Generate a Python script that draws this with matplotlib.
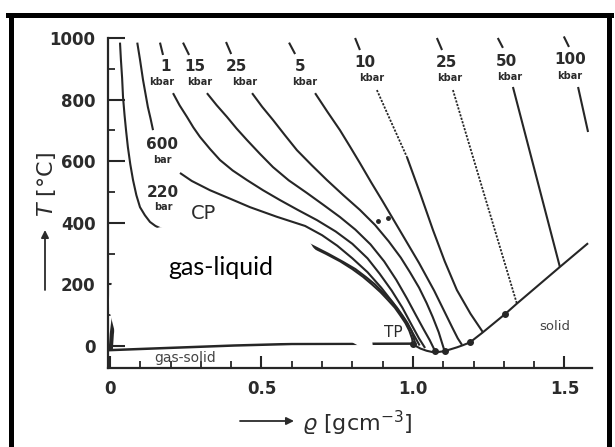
import numpy as np
import matplotlib
matplotlib.use('Agg')
import matplotlib.pyplot as plt
from matplotlib.patches import Polygon
from matplotlib.lines import Line2D

nan = np.nan

# ---------------- data (density g/cm^3, temperature °C); NaN = label gap ----------------
p220_rho = [0.033, 0.036, 0.040, 0.043, 0.048, 0.053, 0.059, 0.067, 0.076, 0.087, 0.099, 0.115, 0.132,
            0.150, 0.172, 0.20, 0.30, 0.45, 0.60, 0.66, 0.72, 0.77, 0.81, 0.845, 0.875, 0.90, 0.925,
            0.947, 0.965, 0.982, 0.995, 1.003, 1.008]
p220_T   = [985, 930, 870, 808, 750, 700, 646, 590, 539, 490, 451, 425, 403,
            390, 380, 376, 373, 372, 355, 330, 300, 273, 250, 224, 200, 175, 150,
            125, 100, 75, 50, 25, 6]

p600_rho = [0.090, 0.099, 0.109, 0.117, 0.125, 0.134, 0.142, nan,
            0.231, 0.27, 0.330, 0.40, 0.462, 0.55, 0.644, 0.70, 0.75, 0.80, 0.85, 0.895, 0.935,
            0.97, 0.995, 1.012, 1.022]
p600_T   = [985, 930, 864, 820, 776, 738, 701, nan,
            562, 536, 506, 477, 451, 420, 390, 360, 326, 285, 240, 190, 140,
            90, 50, 20, 2]

p1k_rho = [0.165, 0.175, nan, 0.208, 0.23, 0.254, 0.275, 0.297, 0.33, 0.363, 0.405, 0.452, 0.505,
           0.561, 0.62, 0.683, 0.745, 0.80, 0.85, 0.89, 0.93, 0.965, 0.995, 1.02, 1.040]
p1k_T   = [985, 945, nan, 821, 781, 744, 710, 679, 640, 604, 570, 539, 506,
           474, 442, 409, 372, 332, 285, 235, 180, 125, 70, 25, -6]

p15k_rho = [0.241, 0.261, nan, 0.320, 0.352, 0.386, 0.418, 0.452, 0.495, 0.538, 0.59, 0.650, 0.705,
            0.759, 0.81, 0.86, 0.905, 0.945, 0.98, 1.01, 1.035, 1.055, 1.072]
p15k_T   = [985, 945, nan, 821, 782, 744, 706, 669, 624, 581, 538, 497, 458,
            419, 378, 330, 275, 215, 155, 100, 55, 20, -14]

p25k_rho = [0.383, 0.400, nan, 0.469, 0.502, 0.538, 0.577, 0.617, 0.666, 0.716, 0.77, 0.825, 0.875,
            0.92, 0.96, 0.99, 1.02, 1.045, 1.065, 1.085, 1.104]
p25k_T   = [987, 948, nan, 821, 777, 734, 685, 636, 587, 539, 490, 442, 393,
            340, 287, 240, 190, 140, 95, 45, -15]

p5k_rho = [0.591, 0.611, nan, 0.677, 0.718, 0.759, 0.792, 0.825, 0.863, 0.90, 0.93, 0.96, 0.99,
           1.02, 1.045, 1.07, 1.09, 1.11, 1.13, 1.148, 1.162]
p5k_T   = [985, 948, nan, 821, 760, 701, 648, 594, 530, 470, 420, 370, 320,
           270, 225, 180, 140, 100, 60, 25, 4]

p10k_top_rho = [0.809, 0.825]
p10k_top_T   = [1000, 961]
p10k_dot_rho = [0.881, 0.930, 0.980]
p10k_dot_T   = [831, 723, 614]
p10k_rho = [0.980, 1.024, 1.066, 1.105, 1.145, 1.19, 1.231]
p10k_T   = [614, 495, 377, 275, 182, 105, 45]

p25kb_top_rho = [1.079, 1.096]
p25kb_top_T   = [1000, 961]
p25kb_rho = [1.132, 1.343]
p25kb_T   = [831, 138]

p50k_rho = [1.280, 1.297, nan, 1.330, 1.485]
p50k_T   = [1000, 968, nan, 841, 257]

p100k_rho = [1.498, 1.515, nan, 1.545, 1.578]
p100k_T   = [1005, 971, nan, 841, 695]

sat_rho = [0.322, 0.45, 0.575, 0.62, 0.66, 0.712, 0.76, 0.80, 0.835, 0.865, 0.893, 0.917, 0.94,
           0.958, 0.975, 0.988, 0.997, 1.0]
sat_T   = [374, 370, 350, 340, 325, 300, 275, 250, 225, 200, 175, 150, 125,
           100, 75, 50, 25, 8]

vap_rho = [0.003, 0.006, 0.012]
vap_T   = [-5, 40, 90]

gassolid_rho = [0.0, 0.19, 0.41, 0.60, 1.0]
gassolid_T   = [-13, -6, 2, 7, 8]

melt_rho = [1.0, 1.01, 1.025, 1.045, 1.063, 1.08, 1.10, 1.122, 1.145, 1.165, 1.188, 1.231, 1.304,
            1.343, 1.485, 1.578]
melt_T   = [8, 0, -8, -15, -19, -19.5, -17, -11, -4, 3, 12, 45, 104,
            138, 257, 334]

points_rho = [1.0, 1.073, 1.106, 1.188, 1.304]
points_T   = [8, -17, -16, 12, 104]
small_pts_rho = [0.884, 0.917]
small_pts_T   = [406, 416]

# masking blob (white patch) outline
blob_rho = [0.066, 0.023, 0.007, -0.003, 0.0, 0.017, 0.033, 0.30, 0.60, 0.80, 0.83, 0.868,
            0.865, 0.842, 0.776, 0.71, 0.67, 0.65, 0.584, 0.406, 0.165, 0.099]
blob_T   = [328, 286, 214, 149, 107, 42, 5, 8, 12, 12, -4, -4,
            20, 84, 198, 279, 321, 354, 377, 386, 386, 370]

# isobar labels
num_labels = ["1", "15", "25", "5", "10", "25", "50", "100"]
num_x = [0.182, 0.281, 0.419, 0.627, 0.842, 1.112, 1.310, 1.518]
num_T = [906, 906, 906, 906, 919, 922, 925, 929]
unit_x = [0.172, 0.297, 0.446, 0.644, 0.865, 1.122, 1.320, 1.518]
unit_T = [857, 857, 857, 857, 870, 870, 873, 877]

bar_labels = ["600", "220"]
bar_x = [0.172, 0.175]
bar_num_T = [653, 497]
bar_unit_T = [604, 451]

x_ticks = [0, 0.5, 1.0, 1.5]
x_ticklabels = ["0", "0.5", "1.0", "1.5"]
y_ticks = [0, 200, 400, 600, 800, 1000]

# ---------------- figure ----------------
W, H = 615, 447
fig = plt.figure(figsize=(6.15, 4.47), dpi=100)
fig.patch.set_facecolor('white')
ax = fig.add_axes([108/W, (H-368)/H, (592-108)/W, (368-38)/H])
ax.set_xlim(-0.0066, 1.591)
ax.set_ylim(-71, 1000)

lc = '#262626'
tc = '#2b2b2b'
lw = 1.5
for r, t in [(p220_rho, p220_T), (p600_rho, p600_T), (p1k_rho, p1k_T), (p15k_rho, p15k_T),
             (p25k_rho, p25k_T), (p5k_rho, p5k_T), (p10k_top_rho, p10k_top_T), (p10k_rho, p10k_T),
             (p25kb_top_rho, p25kb_top_T), (p50k_rho, p50k_T), (p100k_rho, p100k_T),
             (sat_rho, sat_T), (melt_rho, melt_T)]:
    ax.plot(r, t, color=lc, lw=lw, solid_capstyle='butt', solid_joinstyle='round',
            clip_on=False, zorder=2)
for r, t in [(p10k_dot_rho, p10k_dot_T), (p25kb_rho, p25kb_T)]:
    ax.plot(r, t, color=lc, lw=1.3, ls=(0, (1.2, 0.8)), clip_on=False, zorder=2)
ax.plot(gassolid_rho, gassolid_T, color=lc, lw=1.8, zorder=2)
ax.plot(vap_rho, vap_T, color=lc, lw=3, zorder=2)
ax.plot(points_rho, points_T, 'o', color=lc, ms=4, zorder=4)
ax.plot(small_pts_rho, small_pts_T, 'o', color=lc, ms=2.5, zorder=4)

blob = Polygon(np.column_stack([blob_rho, blob_T]), closed=True, facecolor='white',
               edgecolor='none', zorder=3, clip_on=False)
ax.add_patch(blob)
ax.text(0.366, 256, "gas-liquid", fontsize=18, family='Lato', color='black',
        ha='center', va='center', zorder=5)

for s, x, t in zip(num_labels, num_x, num_T):
    ax.text(x, t, s, fontsize=11, fontweight='bold', color=tc, ha='center', va='center', zorder=5)
for x, t in zip(unit_x, unit_T):
    ax.text(x, t, "kbar", fontsize=7, fontweight='bold', color=tc, ha='center', va='center', zorder=5)
for s, x, t1, t2 in zip(bar_labels, bar_x, bar_num_T, bar_unit_T):
    ax.text(x, t1, s, fontsize=11, fontweight='bold', color=tc, ha='center', va='center', zorder=5)
    ax.text(x, t2, "bar", fontsize=7, fontweight='bold', color=tc, ha='center', va='center', zorder=5)

ax.text(0.307, 429, "CP", fontsize=14, color=tc, ha='center', va='center', zorder=5)
ax.text(0.934, 45, "TP", fontsize=11, color=tc, ha='center', va='center', zorder=5)
ax.text(1.469, 65, "solid", fontsize=9.5, color='#444444', ha='center', va='center', zorder=5)
ax.text(0.248, -39, "gas-solid", fontsize=10, color='#444444', ha='center', va='center', zorder=5)

# axes styling
for sp in ['top', 'right']:
    ax.spines[sp].set_visible(False)
for sp in ['left', 'bottom']:
    ax.spines[sp].set_linewidth(1.6)
    ax.spines[sp].set_color(lc)
ax.set_xticks(x_ticks)
ax.set_xticklabels(x_ticklabels)
ax.set_xticks(np.arange(0.1, 1.6, 0.1), minor=True)
ax.set_yticks(y_ticks)
ax.set_yticks(np.arange(100, 1000, 200), minor=True)
ax.tick_params(axis='both', which='major', direction='in', color=lc, width=1.5,
               labelsize=12, labelcolor=tc, pad=9)
ax.tick_params(axis='y', which='major', length=12)
ax.tick_params(axis='x', which='major', length=9)
ax.tick_params(axis='both', which='minor', direction='in', color=lc, width=1.3, length=5)
for lab in ax.get_xticklabels() + ax.get_yticklabels():
    lab.set_fontweight('bold')

ax.set_xlabel(r"$\varrho$ [gcm$^{-3}$]", fontsize=16, color=tc)
ax.xaxis.set_label_coords((357 - 108) / 484, (368 - 409) / 330)
ax.set_ylabel(r"$T$ [°C]", fontsize=16, color=tc)
ax.yaxis.set_label_coords((58 - 108) / 484, (368 - 185) / 330)

# label arrows
arrow_kw = dict(arrowstyle='-|>', lw=1.3, color=tc, mutation_scale=11, shrinkA=0, shrinkB=0)
ax.annotate('', xy=(294/W, 1-421/H), xytext=(240/W, 1-421/H),
            xycoords='figure fraction', textcoords='figure fraction', arrowprops=arrow_kw)
ax.annotate('', xy=(45/W, 1-230/H), xytext=(45/W, 1-290/H),
            xycoords='figure fraction', textcoords='figure fraction', arrowprops=arrow_kw)

# frame border (left, top, right)
for (x0, y0, x1, y1) in [(10.8, 447, 10.8, 15), (8.3, 15, 611, 15), (608.5, 15, 608.5, 447)]:
    fig.add_artist(Line2D([x0/W, x1/W], [1-y0/H, 1-y1/H], color='black', lw=3.6,
                          transform=fig.transFigure))

fig.savefig('out.png', dpi=100)
